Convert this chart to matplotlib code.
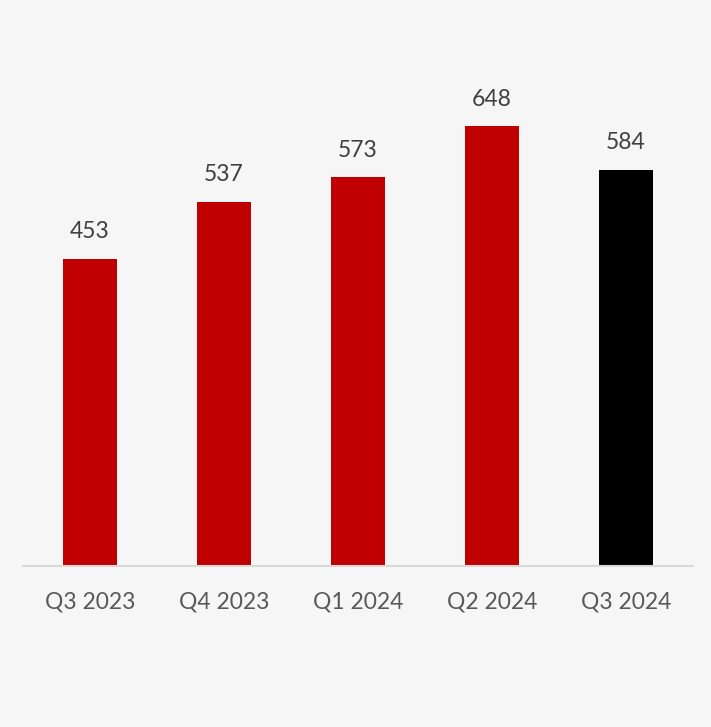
import matplotlib.pyplot as plt

quarters = ['Q3 2023', 'Q4 2023', 'Q1 2024', 'Q2 2024', 'Q3 2024']
values = [453, 537, 573, 648, 584]
bar_colors = ['#c00000', '#c00000', '#c00000', '#c00000', '#000000']

bg = '#f6f6f6'
plt.rcParams['font.family'] = ['Lato', 'DejaVu Sans']

fig = plt.figure(figsize=(7.11, 7.27), dpi=100, facecolor=bg)
ax = fig.add_axes([23 / 711, 161 / 727, 670 / 711, 475 / 727])
ax.set_facecolor(bg)

x = range(len(quarters))
bars = ax.bar(x, values, width=0.4, color=bar_colors)
ax.set_xlim(-0.5, len(quarters) - 0.5)
ax.set_ylim(0, 700)

for b, v in zip(bars, values):
    ax.annotate(str(v), (b.get_x() + b.get_width() / 2, v),
                xytext=(0, 12), textcoords='offset points',
                ha='center', va='bottom', fontsize=16.5, color='#404040')

ax.set_xticks(list(x))
ax.set_xticklabels(quarters, fontsize=16.5, color='#595959')
ax.tick_params(axis='x', length=0, pad=18)
ax.set_yticks([])
for s in ['top', 'left', 'right']:
    ax.spines[s].set_visible(False)
ax.spines['bottom'].set_color('#d9d9d9')
ax.spines['bottom'].set_linewidth(1.5)

fig.savefig('out.png', dpi=100, facecolor=bg)
